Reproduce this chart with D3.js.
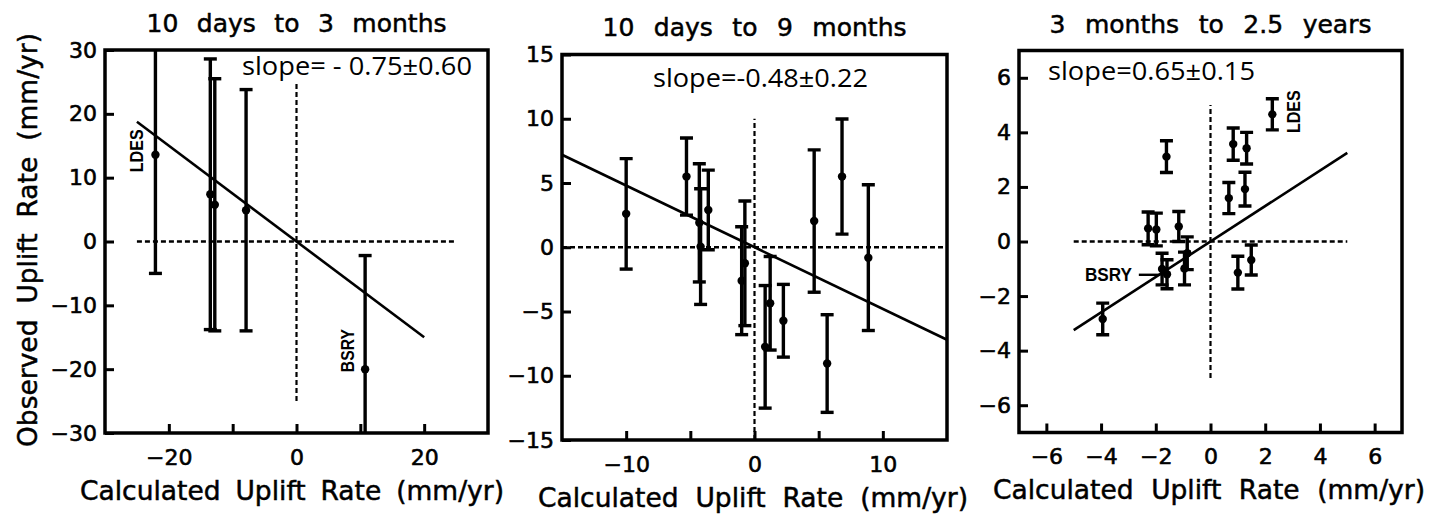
<!DOCTYPE html>
<html>
<head>
<meta charset="utf-8">
<script src="https://cdn.jsdelivr.net/npm/d3@7"></script>
<style>
body { margin: 0; background: #fff; }
svg text { fill: #000; }
</style>
</head>
<body>
<svg id="chart" width="1447" height="514"></svg>
<script>
// ---- data ----
const titles = ["10 days to 3 months", "10 days to 9 months", "3 months to 2.5 years"];
const slopeTexts = ["slope= - 0.75\u00b10.60", "slope=-0.48\u00b10.22", "slope=0.65\u00b10.15"];

// panel 1: 10 days to 3 months
const calc1 = [-22.1, -13.5, -12.8, -7.9, 10.75];
const obs1  = [13.6, 7.4, 5.75, 4.9, -20.0];
const err1  = [18.6, 21.2, 19.75, 18.9, 17.8];

// panel 2: 10 days to 9 months
const calc2 = [-10.0, -5.3, -4.3, -4.2, -3.6, -1.0, -0.75, 0.83, 1.22, 2.25, 4.65, 5.66, 6.82, 8.87];
const obs2  = [2.6, 5.5, 1.9, 0.05, 2.9, -2.6, -1.25, -7.75, -4.36, -5.72, 2.04, -9.05, 5.5, -0.81];
const err2  = [4.3, 3.0, 4.6, 4.5, 3.1, 4.2, 4.85, 4.77, 3.64, 2.83, 5.54, 3.8, 4.48, 5.67];

// panel 3: 3 months to 2.5 years
const calc3 = [-3.94, -2.28, -1.98, -1.61, -1.16, -1.77, -1.59, -0.85, -0.95, 0.67, 0.83, 1.32, 1.26, 1.0, 1.49, 2.26];
const obs3  = [-2.84, 0.48, 0.44, 3.11, 0.55, -1.01, -1.2, -0.43, -0.99, 1.59, 3.57, 3.42, 1.92, -1.14, -0.68, 4.66];
const err3  = [0.58, 0.6, 0.6, 0.58, 0.55, 0.58, 0.53, 0.6, 0.6, 0.57, 0.59, 0.58, 0.62, 0.6, 0.55, 0.57];

// fitted lines (end points)
const fit1 = [[-25, 18.75], [20, -15]];
const fit2 = [[-15, 7.2], [15, -7.2]];
const fit3 = [[-5, -3.25], [5, 3.25]];

// dashed zero lines: [x0, x1] for y=0 and [y0, y1] for x=0
const zeroH = [[-25, 25], [-15, 15], [-5, 5]];
const zeroV = [[-25, 25], [-15, 10], [-5, 5]];

// axis domains and ticks
const domains = [[-30, 30], [-15, 15], [-7, 7]];
const yTicks = [[-30, -20, -10, 0, 10, 20, 30], [-15, -10, -5, 0, 5, 10, 15], [-6, -4, -2, 0, 2, 4, 6]];
const xTicks = [[-20, -10, 0, 10, 20], [-10, -5, 0, 5, 10], [-6, -4, -2, 0, 2, 4, 6]];
const xTickLabels = [[-20, 0, 20], [-10, 0, 10], [-6, -4, -2, 0, 2, 4, 6]];

// station labels: [panel, name, x, y]
const stations = [
  [0, "LDES", -25.0, 14.2],
  [0, "BSRY", 8.0, -17.1],
  [2, "LDES", 3.04, 4.76]
];
const leader3 = [[-2.62, -1.22], [-1.83, -1.22]];
const leaderLabel3 = ["BSRY", -2.87, -1.22];

// ---- layout ----
const frames = [
  {x0: 105, x1: 488, y0: 50, y1: 433, titleY: 32, slopeX: 242, slopeY: 75, slopeW: 230, titleW: 300, xlabX: 292, xlabY: 500, xlabW: 424},
  {x0: 562, x1: 947, y0: 54.5, y1: 440, titleY: 36, slopeX: 653, slopeY: 87, slopeW: 215, titleW: 304, xlabX: 753, xlabY: 507, xlabW: 430},
  {x0: 1019, x1: 1402, y0: 50.5, y1: 432.5, titleY: 33, slopeX: 1048, slopeY: 80, slopeW: 207, titleW: 322, xlabX: 1209, xlabY: 499, xlabW: 432}
];

const panels = [
  {calc: calc1, obs: obs1, err: err1, fit: fit1},
  {calc: calc2, obs: obs2, err: err2, fit: fit2},
  {calc: calc3, obs: obs3, err: err3, fit: fit3}
];

const svg = d3.select("#chart");
const font = "'DejaVu Sans', sans-serif";

// heavier text, like the plotter font of the original
function heavy(sel, w) {
  return sel.attr("stroke", "#000").attr("stroke-width", w).attr("paint-order", "stroke");
}

// widen the gaps between words until the text is as wide as the original
function spreadWords(sel, target) {
  let len = sel.node().getComputedTextLength();
  let gaps = sel.text().split(" ").length - 1;
  sel.style("word-spacing", Math.max(0, (target - len) / gaps) + "px");
  return sel;
}

panels.forEach((p, i) => {
  const f = frames[i];
  const xScale = d3.scaleLinear().domain(domains[i]).range([f.x0, f.x1]);
  const yScale = d3.scaleLinear().domain(domains[i]).range([f.y1, f.y0]);
  const g = svg.append("g");

  g.append("clipPath")
    .attr("id", "clip" + i)
    .append("rect")
    .attr("x", f.x0).attr("y", f.y0)
    .attr("width", f.x1 - f.x0).attr("height", f.y1 - f.y0);

  // axes with inward ticks
  let yAxisFunction = d3.axisLeft(yScale)
                        .tickValues(yTicks[i])
                        .tickSizeInner(-9)
                        .tickSizeOuter(0)
                        .tickPadding(8)
                        .tickFormat(d3.format("d"));
  let yG = g.append("g")
            .attr("transform", `translate(${f.x0}, 0)`)
            .call(yAxisFunction);

  let xAxisFunction = d3.axisBottom(xScale)
                        .tickValues(xTicks[i])
                        .tickSizeInner(-9)
                        .tickSizeOuter(0)
                        .tickPadding(16)
                        .tickFormat(d => xTickLabels[i].includes(d) ? d3.format("d")(d) : "");
  let xG = g.append("g")
            .attr("transform", `translate(0, ${f.y1})`)
            .call(xAxisFunction);

  [xG, yG].forEach(a => {
    a.select(".domain").remove();
    a.selectAll(".tick line").attr("stroke", "#000").attr("stroke-width", 3);
    heavy(a.selectAll(".tick text"), 0.6)
      .attr("fill", "#000")
      .style("font-family", font)
      .style("font-size", "22px");
  });

  // frame
  g.append("rect")
    .attr("x", f.x0).attr("y", f.y0)
    .attr("width", f.x1 - f.x0).attr("height", f.y1 - f.y0)
    .attr("fill", "none")
    .attr("stroke", "#000")
    .attr("stroke-width", 3.5);

  // dashed zero lines
  g.append("line")
    .attr("x1", xScale(zeroH[i][0])).attr("x2", xScale(zeroH[i][1]))
    .attr("y1", yScale(0)).attr("y2", yScale(0))
    .attr("stroke", "#000").attr("stroke-width", 2.4)
    .attr("stroke-dasharray", "5,3");
  g.append("line")
    .attr("x1", xScale(0)).attr("x2", xScale(0))
    .attr("y1", yScale(zeroV[i][0])).attr("y2", yScale(zeroV[i][1]))
    .attr("stroke", "#000").attr("stroke-width", 2.2)
    .attr("stroke-dasharray", "5,3");

  // fit line
  const lineMaker = d3.line().x(d => xScale(d[0])).y(d => yScale(d[1]));
  g.append("path")
    .attr("d", lineMaker(p.fit))
    .attr("fill", "none")
    .attr("stroke", "#000")
    .attr("stroke-width", 2.6);

  // error bars and points
  const pts = p.calc.map((c, k) => ({x: c, y: p.obs[k], e: p.err[k]}));
  const bars = g.append("g").attr("clip-path", `url(#clip${i})`);
  const capW = 6.5;
  pts.forEach(d => {
    const cx = xScale(d.x);
    const top = yScale(d.y + d.e), bot = yScale(d.y - d.e);
    bars.append("line")
      .attr("x1", cx).attr("x2", cx).attr("y1", top).attr("y2", bot)
      .attr("stroke", "#000").attr("stroke-width", 3.4);
    [top, bot].forEach(yy => {
      bars.append("line")
        .attr("x1", cx - capW).attr("x2", cx + capW).attr("y1", yy).attr("y2", yy)
        .attr("stroke", "#000").attr("stroke-width", 3.4);
    });
  });
  bars.selectAll("circle")
    .data(pts)
    .enter()
    .append("circle")
    .attr("cx", d => xScale(d.x))
    .attr("cy", d => yScale(d.y))
    .attr("r", 4.2)
    .attr("fill", "#000");

  // station names
  stations.filter(s => s[0] == i).forEach(s => {
    g.append("text")
      .attr("transform", `translate(${xScale(s[2])}, ${yScale(s[3])}) rotate(-90)`)
      .attr("text-anchor", "middle")
      .attr("dy", "0.35em")
      .style("font-family", "'Liberation Sans', Arial, sans-serif")
      .style("font-weight", "bold")
      .style("font-size", "18px")
      .attr("textLength", 43)
      .attr("lengthAdjust", "spacingAndGlyphs")
      .text(s[1]);
  });
  if (i == 2) {
    g.append("path")
      .attr("d", lineMaker(leader3))
      .attr("stroke", "#000").attr("stroke-width", 2.4);
    g.append("text")
      .attr("x", xScale(leaderLabel3[1]))
      .attr("y", yScale(leaderLabel3[2]))
      .attr("dy", "0.36em")
      .attr("text-anchor", "end")
      .style("font-family", "'Liberation Sans', Arial, sans-serif")
      .style("font-weight", "bold")
      .style("font-size", "18px")
      .attr("textLength", 47)
      .attr("lengthAdjust", "spacingAndGlyphs")
      .text(leaderLabel3[0]);
  }

  // slope text
  g.append("text")
    .attr("x", f.slopeX).attr("y", f.slopeY)
    .style("font-family", "'Open Sans', sans-serif")
    .style("font-size", "26px")
    .attr("textLength", f.slopeW)
    .attr("lengthAdjust", "spacingAndGlyphs")
    .text(slopeTexts[i]);

  // title
  let title = heavy(g.append("text"), 0.5)
    .attr("x", (f.x0 + f.x1) / 2).attr("y", f.titleY)
    .attr("text-anchor", "middle")
    .style("font-family", font)
    .style("font-size", "25px")
    .text(titles[i]);
  spreadWords(title, f.titleW);

  // x label
  let xLab = heavy(g.append("text"), 0.5)
    .attr("x", f.xlabX).attr("y", f.xlabY)
    .attr("text-anchor", "middle")
    .style("font-family", font)
    .style("font-size", "26.5px")
    .text("Calculated Uplift Rate (mm/yr)");
  spreadWords(xLab, f.xlabW);
});

// y label (first panel only)
let yLab = heavy(svg.append("text"), 0.5)
  .attr("transform", "translate(37, 240) rotate(-90)")
  .attr("text-anchor", "middle")
  .style("font-family", font)
  .style("font-size", "26.5px")
  .text("Observed Uplift Rate (mm/yr)");
spreadWords(yLab, 414);
</script>
</body>
</html>
